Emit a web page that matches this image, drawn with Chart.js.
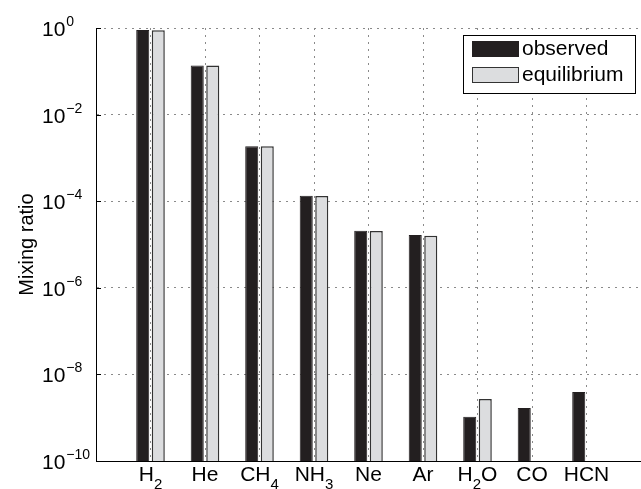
<!DOCTYPE html>
<html>
<head>
<meta charset="utf-8">
<script src="https://cdn.jsdelivr.net/npm/chart.js@4.4.1/dist/chart.umd.min.js"></script>
<style>
  html, body { margin: 0; padding: 0; background: #fff; }
</style>
</head>
<body>
<canvas id="mixing" width="641" height="489"></canvas>
<script>
const gases = ["H₂", "He", "CH₄", "NH₃", "Ne", "Ar", "H₂O", "CO", "HCN"];
const observed = [0.9, 0.137, 1.87e-3, 1.34e-4, 2.08e-5, 1.65e-5, 1.05e-9, 1.67e-9, 3.9e-9];
const equilibrium = [0.89, 0.136, 1.86e-3, 1.31e-4, 2.06e-5, 1.6e-5, 2.7e-9, null, null];
const yTicks = [1e-10, 1e-8, 1e-6, 1e-4, 1e-2, 1];
const seriesNames = ["observed", "equilibrium"];

const FONT = "'Liberation Sans', Arial, Helvetica, sans-serif";
const SUBS = "₀₁₂₃₄₅₆₇₈₉";
const colors = {
  dark: "#231f20",
  light: "#dcdddf",
  lightEdge: "#333333",
  grid: "#8a8a8a",
};

// split "H₂O" into pieces of normal text and subscripts
function splitFormula(label) {
  const parts = [];
  for (const ch of label) {
    const k = SUBS.indexOf(ch);
    const isSub = k >= 0;
    const txt = isSub ? String(k) : ch;
    const last = parts[parts.length - 1];
    if (last && last.sub === isSub) last.text += txt;
    else parts.push({ text: txt, sub: isSub });
  }
  return parts;
}

const annotations = {
  id: "annotations",
  afterDraw(chart) {
    const { ctx, chartArea, scales } = chart;
    const xs = scales.x;
    const ys = scales.y;
    ctx.save();
    ctx.fillStyle = "#000";
    ctx.strokeStyle = "#000";
    ctx.lineWidth = 1;
    ctx.textBaseline = "alphabetic";
    ctx.textAlign = "left";

    // y ticks: 10 with exponent, plus inward tick marks
    yTicks.forEach((v) => {
      const py = ys.getPixelForValue(v);
      const exp = Math.round(Math.log10(v));
      ctx.font = "21px " + FONT;
      ctx.fillText("10", 42, py + 8);
      const w = ctx.measureText("10").width;
      ctx.font = "14px " + FONT;
      ctx.fillText(exp < 0 ? "−" + -exp : String(exp), 42 + w + 1, py - 2);
      const yy = Math.round(py) + 0.5;
      ctx.beginPath();
      ctx.moveTo(chartArea.left, yy);
      ctx.lineTo(chartArea.left + 5, yy);
      ctx.stroke();
    });

    // x category labels with subscripts
    gases.forEach((g, i) => {
      const px = xs.getPixelForValue(i + 1);
      const parts = splitFormula(g);
      let total = 0;
      parts.forEach((p) => {
        ctx.font = (p.sub ? "15px " : "21px ") + FONT;
        p.w = ctx.measureText(p.text).width;
        total += p.w;
      });
      let cx = px - total / 2;
      parts.forEach((p) => {
        ctx.font = (p.sub ? "15px " : "21px ") + FONT;
        ctx.fillText(p.text, cx, p.sub ? 489 : 481);
        cx += p.w;
      });
    });

    // y axis title
    ctx.save();
    ctx.translate(33, (chartArea.top + chartArea.bottom) / 2);
    ctx.rotate(-Math.PI / 2);
    ctx.textAlign = "center";
    ctx.font = "20px " + FONT;
    ctx.fillText("Mixing ratio", 0, 0);
    ctx.restore();

    // legend box
    const lx = 463.5, ly = 35.5, lw = 172, lh = 58;
    ctx.fillStyle = "#fff";
    ctx.fillRect(lx, ly, lw, lh);
    ctx.strokeStyle = "#000";
    ctx.strokeRect(lx, ly, lw, lh);
    const swatches = [
      { fill: colors.dark, edge: colors.dark, y: 41 },
      { fill: colors.light, edge: colors.lightEdge, y: 67 },
    ];
    swatches.forEach((s, k) => {
      ctx.fillStyle = s.fill;
      ctx.fillRect(472, s.y, 47, 16);
      ctx.strokeStyle = s.edge;
      ctx.strokeRect(472.5, s.y + 0.5, 46, 15);
      ctx.fillStyle = "#000";
      ctx.font = "21px " + FONT;
      ctx.textBaseline = "middle";
      ctx.fillText(chart.data.datasets[k].label, 522, s.y + 8);
    });
    ctx.restore();
  },
};

const toPoints = (arr) => arr.map((v, i) => ({ x: i + 1, y: v }));

new Chart(document.getElementById("mixing"), {
  type: "bar",
  data: {
    datasets: [
      {
        label: seriesNames[0],
        data: toPoints(observed),
        backgroundColor: colors.dark,
        borderColor: colors.dark,
        borderWidth: 1,
      },
      {
        label: seriesNames[1],
        data: toPoints(equilibrium),
        backgroundColor: colors.light,
        borderColor: colors.lightEdge,
        borderWidth: 1.5,
      },
    ],
  },
  options: {
    responsive: false,
    devicePixelRatio: 1,
    animation: false,
    categoryPercentage: 0.57,
    barPercentage: 0.84,
    layout: { padding: { left: 96, top: 28, right: 0, bottom: 28 } },
    plugins: {
      legend: { display: false },
      tooltip: { enabled: false },
    },
    scales: {
      x: {
        type: "linear",
        min: 0,
        max: 10,
        offset: false,
        ticks: { display: false, stepSize: 1 },
        grid: {
          offset: false,
          drawTicks: false,
          color: (c) =>
            c.tick && c.tick.value > 0 && c.tick.value < 10 ? colors.grid : "rgba(0,0,0,0)",
        },
        border: { display: true, color: "#000", width: 1, dash: [2, 5] },
      },
      y: {
        type: "logarithmic",
        min: 1e-10,
        max: 1,
        afterBuildTicks: (scale) => {
          scale.ticks = yTicks.map((v) => ({ value: v }));
        },
        ticks: { display: false },
        grid: {
          drawTicks: false,
          color: (c) => (c.tick && c.tick.value > 1e-10 ? colors.grid : "rgba(0,0,0,0)"),
        },
        border: { display: true, color: "#000", width: 1, dash: [2, 5] },
      },
    },
  },
  plugins: [annotations],
});
</script>
</body>
</html>
